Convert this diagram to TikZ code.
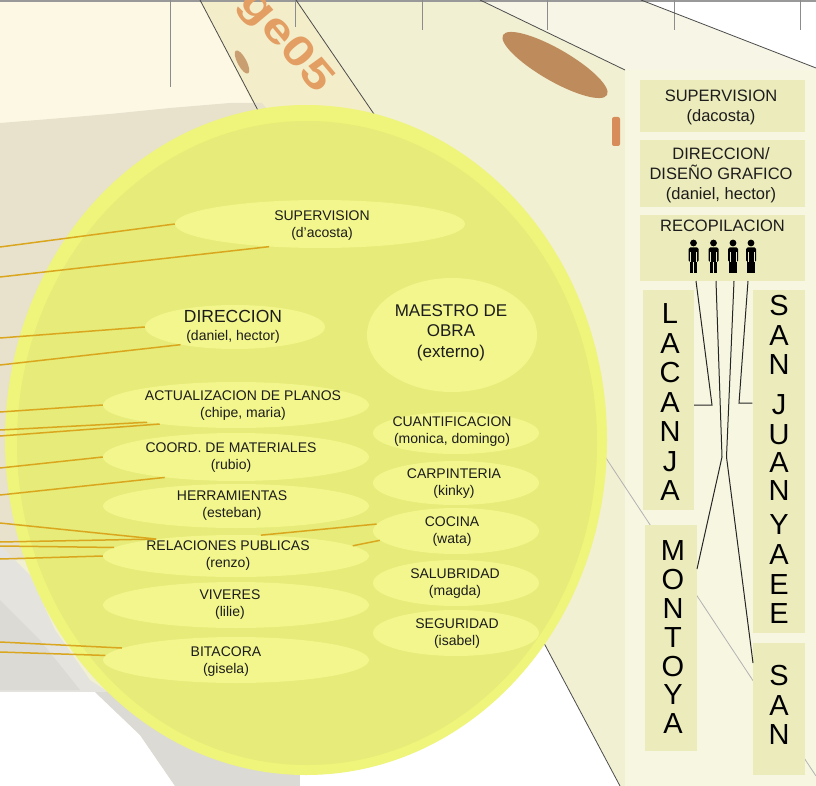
\documentclass[tikz,border=0pt]{standalone}
\usepackage{fontspec}
\setmainfont{Liberation Sans}
\usetikzlibrary{shapes.geometric}

\definecolor{creamTL}{RGB}{252,248,227}
\definecolor{creamMid}{RGB}{241,240,211}
\definecolor{creamBand}{RGB}{244,237,201}
\definecolor{creamStrip}{RGB}{247,246,230}
\definecolor{beige}{RGB}{232,226,204}
\definecolor{lightGray}{RGB}{228,227,221}
\definecolor{grayShade}{RGB}{219,218,212}
\definecolor{panelBg}{RGB}{246,246,225}
\definecolor{boxFill}{RGB}{236,235,188}
\definecolor{rimY}{RGB}{239,244,122}
\definecolor{innerY}{RGB}{230,235,121}
\definecolor{labelY}{RGB}{242,246,140}
\definecolor{goldLine}{RGB}{218,166,30}
\definecolor{orangeDeco}{RGB}{227,158,99}
\definecolor{brownDeco}{RGB}{190,140,92}
\definecolor{rustDeco}{RGB}{216,140,90}
\definecolor{textDark}{RGB}{28,28,28}

\tikzset{
  edge/.style={draw=black!70, line width=0.8pt},
  tick/.style={draw=black!45, line width=0.9pt},
  goldln/.style={draw=goldLine, line width=1.5pt},
  lblshape/.style={ellipse, fill=labelY, inner sep=0pt},
  lbltext/.style={align=center, text=textDark, inner sep=0pt, font=\fontsize{14}{17}\selectfont},
  pbox/.style={rectangle, fill=boxFill, inner sep=0pt},
  ptext/.style={align=center, text=textDark, inner sep=0pt, font=\fontsize{16.5}{20}\selectfont},
  vlet/.style={text=black, inner sep=0pt, font=\fontsize{29}{29}\selectfont},
  blk/.style={draw=black!85, line width=1pt},
  person/.pic={
    \fill (0,-30) circle (3.4);
    \fill[rounded corners=1.5pt] (-5,-25.5) rectangle (5,-11);
    \fill (-3.7,-12) rectangle (-0.4,0);
    \fill (0.4,-12) rectangle (3.7,0);
    \draw[boxFill, line width=0.5pt] (-3.1,-21) -- (-3.1,-11) (3.1,-21) -- (3.1,-11);
  }
}

\begin{document}
\begin{tikzpicture}[x=1pt,y=-1pt]
\useasboundingbox (0,0) rectangle (816,786);
\clip (0,0) rectangle (816,786);

% ---------- background ----------
\fill[creamMid] (0,0) rectangle (816,786);
\fill[creamTL] (0,0) -- (200,0) -- (262,120) -- (0,130) -- cycle;
\fill[creamBand] (200,0) -- (296,0) -- (380,123) -- (262,120) -- cycle;
\fill[creamStrip] (480,0) -- (641,0) -- (816,68) -- (816,70) -- (625,70) -- cycle;
\fill[white] (641,0) -- (816,0) -- (816,68) -- cycle;

% land mass on the left
\fill[beige] (0,123) -- (50,119) -- (110,114) -- (170,108) -- (230,103) -- (262,103)
  -- (300,150) -- (300,560) -- (0,560) -- cycle;
\fill[lightGray] (0,545) -- (30,575) -- (55,630) -- (90,680) -- (120,700) -- (0,700) -- cycle;
\fill[grayShade] (0,600) -- (40,640) -- (80,690) -- (0,690) -- cycle;
\fill[white] (0,692) -- (95,692) -- (140,735) -- (175,786) -- (0,786) -- cycle;
\fill[grayShade] (95,692) -- (300,692) -- (300,786) -- (175,786) -- (140,735) -- cycle;
\fill[white] (300,700) -- (478,519) -- (620,786) -- (300,786) -- cycle;

% right panel
\fill[panelBg] (625,70) rectangle (816,786);

% ---------- frame lines ----------
\draw[draw=black!40, line width=1.2pt] (0,1) -- (816,1);
\foreach \xx/\len in {170/87,295/27,422/30,547/30,674/30,800/30}
  \draw[tick] (\xx,0) -- (\xx,\len);

% ---------- decorations ----------
\begin{scope}
  \clip (200,0) -- (296,0) -- (380,123) -- (262,120) -- cycle;
  \node[rotate=-50, xscale=1.2, yscale=0.95, text=orangeDeco,
        font=\bfseries\fontsize{44}{44}\selectfont] (bandmark) at (285,42) {ge05};
\end{scope}
\fill[brownDeco!80!creamBand, rotate around={-62:(242,62)}] (242,62) ellipse (13 and 4.5);
\fill[brownDeco, rotate around={-30:(555,65)}] (555,65) ellipse (60 and 16);
\fill[rustDeco, rounded corners=2pt] (612,117) rectangle (620,146);

\draw[edge] (200,0) -- (262,118);
\draw[edge] (296,0) -- (376,117);
\draw[edge] (480,0) -- (625,70);
\draw[edge] (641,0) -- (816,68);
\draw[edge] (478,519) -- (620,786);
\draw[draw=black!30, line width=0.8pt] (600,449) -- (816,776);

% ---------- big circle ----------
\fill[rimY] (306,440) ellipse (301 and 335);
\fill[innerY] (307,443) ellipse (290 and 322);

% label ellipses
\node[lblshape, minimum width=290pt, minimum height=48pt] (sup) at (320,224) {};
\node[lblshape, minimum width=180pt, minimum height=44pt] (dir) at (235,327) {};
\node[lblshape, minimum width=170pt, minimum height=114pt] (mae) at (452,335) {};
\node[lblshape, minimum width=266pt, minimum height=46pt] (act) at (236,405) {};
\node[lblshape, minimum width=266pt, minimum height=48pt] (coo) at (236,457) {};
\node[lblshape, minimum width=266pt, minimum height=44pt] (her) at (236,506) {};
\node[lblshape, minimum width=266pt, minimum height=42pt] (rel) at (236,556) {};
\node[lblshape, minimum width=266pt, minimum height=46pt] (viv) at (236,605) {};
\node[lblshape, minimum width=266pt, minimum height=46pt] (bit) at (236,660) {};
\node[lblshape, minimum width=166pt, minimum height=42pt] (cua) at (456,433) {};
\node[lblshape, minimum width=166pt, minimum height=44pt] (car) at (456,483) {};
\node[lblshape, minimum width=166pt, minimum height=46pt] (coc) at (456,531) {};
\node[lblshape, minimum width=166pt, minimum height=46pt] (sal) at (456,583) {};
\node[lblshape, minimum width=166pt, minimum height=46pt] (seg) at (456,633) {};

% gold connectors coming in from the left edge
\foreach \nm/\yy in {g1/247,g2/277,g3/338,g4/365,g5/412,g6/430,g7/436,g8/468,
                     g9/495,g10/523,g11/542,g12/546,g13/559,g14/642,g15/652}
  \coordinate (\nm) at (0,\yy);
\draw[goldln] (g1) -- (sup.west);
\draw[goldln] (g2) -- (sup.204);
\draw[goldln] (g3) -- (dir.west);
\draw[goldln] (g4) -- (dir.198);
\draw[goldln] (g5) -- (act.west);
\draw[goldln] (g6) -- (act.191.5);
\draw[goldln] (g7) -- (act.194);
\draw[goldln] (g8) -- (coo.west);
\draw[goldln] (g9) -- (coo.196.5);
\draw[goldln] (g10) -- (rel.168);
\draw[goldln] (g11) -- (rel.168);
\draw[goldln] (g12) -- (rel.176);
\draw[goldln] (g13) -- (rel.west);
\draw[goldln] (g14) -- (bit.174.4);
\draw[goldln] (g15) -- (bit.178);
\draw[goldln] (rel.40) -- (coc.175);
\draw[goldln] (rel.5) -- (coc.187);

% label texts
\node[lbltext] (sup-t) at (322,225.5) {SUPERVISION\\(d’acosta)};
\node[lbltext, font=\fontsize{14}{18}\selectfont] (dir-t) at (233,327)
  {{\fontsize{17.5}{18}\selectfont DIRECCION}\\(daniel, hector)};
\node[lbltext, font=\fontsize{17}{20.5}\selectfont] (mae-t) at (451,332.5) {MAESTRO DE\\OBRA\\(externo)};
\node[lbltext] (act-t) at (243,406) {ACTUALIZACION DE PLANOS\\(chipe, maria)};
\node[lbltext] (coo-t) at (231,458) {COORD. DE MATERIALES\\(rubio)};
\node[lbltext] (her-t) at (232,506) {HERRAMIENTAS\\(esteban)};
\node[lbltext] (rel-t) at (228,556) {RELACIONES PUBLICAS\\(renzo)};
\node[lbltext] (viv-t) at (230,605) {VIVERES\\(lilie)};
\node[lbltext] (bit-t) at (226,662) {BITACORA\\(gisela)};
\node[lbltext] (cua-t) at (452,432) {CUANTIFICACION\\(monica, domingo)};
\node[lbltext] (car-t) at (454,484) {CARPINTERIA\\(kinky)};
\node[lbltext] (coc-t) at (452,532) {COCINA\\(wata)};
\node[lbltext] (sal-t) at (455,584) {SALUBRIDAD\\(magda)};
\node[lbltext] (seg-t) at (457,634) {SEGURIDAD\\(isabel)};

% ---------- right panel ----------
\node[pbox, minimum width=165pt, minimum height=52pt] (psup) at (722.5,106) {};
\node[ptext] (psup-t) at (721,107) {SUPERVISION\\(dacosta)};
\node[pbox, minimum width=165pt, minimum height=67pt] (pdir) at (722.5,173.5) {};
\node[ptext] (pdir-t) at (721,175) {DIRECCION/\\DISEÑO GRAFICO\\(daniel, hector)};
\node[pbox, minimum width=165pt, minimum height=66pt] (prec) at (722.5,248) {};
\node[ptext] (prec-t) at (722.5,225.5) {RECOPILACION};

\node[pbox, minimum width=51pt, minimum height=220pt] (lac) at (668.5,400) {};
\node[pbox, minimum width=52pt, minimum height=343pt] (sj) at (778.5,461.5) {};
\node[pbox, minimum width=52pt, minimum height=226pt] (mon) at (671,638) {};
\node[pbox, minimum width=52pt, minimum height=132pt] (san) at (778.5,709) {};

\foreach \ch [count=\i] in {L,A,C,A,N,J,A}
  \node[vlet] (lacl\i) at (670,{314+29.5*(\i-1)}) {\ch};
\foreach \ch/\yy [count=\i] in {S/306,A/336,N/365,J/405,U/435,A/463,N/491,Y/525,A/555,E/585,E/614}
  \node[vlet] (sjl\i) at (779,\yy) {\ch};
\foreach \ch [count=\i] in {M,O,N,T,O,Y,A}
  \node[vlet] (monl\i) at (673,{551+28.8*(\i-1)}) {\ch};
\foreach \ch/\yy [count=\i] in {S/676,A/706,N/735}
  \node[vlet] (sanl\i) at (779,\yy) {\ch};

% people
\pic (man1) at (693.5,273) {person};
\pic (man2) at (713.5,273) {person};
\pic (man3) at (733,273) {person};
\pic (man4) at (751,273) {person};

% connectors from the team to the groups
\coordinate (f1) at (696,281);   \coordinate (k1) at (712,405);
\coordinate (f2) at (716,281);   \coordinate (k2) at (722,457);   \coordinate (e2) at (697,569);
\coordinate (f3) at (734,281);   \coordinate (k3) at (726.5,457); \coordinate (e3) at (753,663);
\coordinate (f4) at (748,281);   \coordinate (k4) at (739,403);
\draw[blk] (f1) -- (k1) -- (k1 -| lac.east);
\draw[blk] (f2) -- (k2) -- (e2);
\draw[blk] (f3) -- (k3) -- (e3);
\draw[blk] (f4) -- (k4) -- (k4 -| sj.west);
\end{tikzpicture}
\end{document}
